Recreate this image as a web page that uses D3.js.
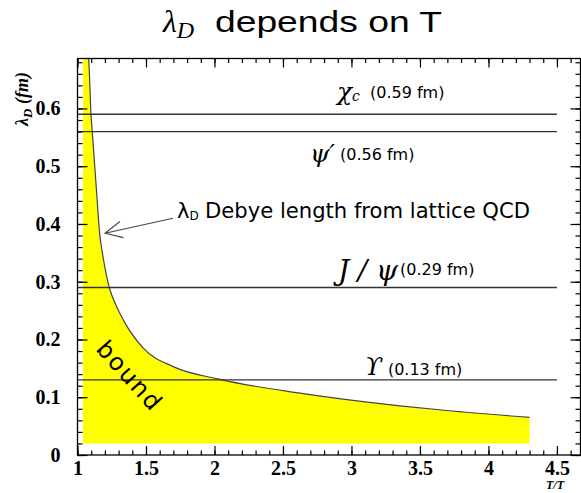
<!DOCTYPE html>
<html>
<head>
<meta charset="utf-8">
<script src="https://cdn.jsdelivr.net/npm/d3@7"></script>
<style>
  body { margin: 0; background: #fff; }
  svg { display: block; }
</style>
</head>
<body>
<div id="container"></div>
<script>
// Debye length curve (T/Tc, lambda_D in fm)
const tRatio = [1.075, 1.082, 1.099, 1.108, 1.135, 1.164, 1.179, 1.232, 1.274, 1.334, 1.48, 1.699, 2.04, 2.624, 3.354, 3.695, 4.30]
const lambdaD = [0.70, 0.684, 0.588, 0.559, 0.47, 0.378, 0.354, 0.290, 0.263, 0.234, 0.185, 0.153, 0.131, 0.107, 0.085, 0.077, 0.065]

// quarkonium states and their radii
const states = ["χc", "ψ′", "J/ψ", "ϒ"]
const radii = [0.59, 0.56, 0.29, 0.13]

const xTicks = [1, 1.5, 2, 2.5, 3, 3.5, 4, 4.5]
const yTicks = [0, 0.1, 0.2, 0.3, 0.4, 0.5, 0.6]

const width = 581
const height = 493

const svg = d3.select('#container')
    .append('svg').attr('width', width).attr('height', height)

const x = d3.scaleLinear().domain([1, 4.672]).range([77.5, 580.5])
const y = d3.scaleLinear().domain([0, 0.6865]).range([455, 58.5])

svg.append("clipPath").attr("id", "frame")
    .append("rect")
    .attr("x", x.range()[0]).attr("y", y.range()[1])
    .attr("width", x.range()[1] - x.range()[0])
    .attr("height", y.range()[0] - y.range()[1])

const curveData = tRatio.map((t, i) => [t, lambdaD[i]])
const plot = svg.append("g").attr("clip-path", "url(#frame)")

// yellow bound region
const areaData = [[1.04, 0.70]].concat(curveData)
const area = d3.area()
    .x(d => x(d[0]))
    .y0(y(0.02))
    .y1(d => y(d[1]))
    .curve(d3.curveMonotoneX)
plot.append("path")
    .attr("d", area(areaData))
    .attr("fill", "#ffff00")

const line = d3.line()
    .x(d => x(d[0]))
    .y(d => y(d[1]))
    .curve(d3.curveMonotoneX)
plot.append("path")
    .attr("d", line(curveData))
    .attr("fill", "none")
    .attr("stroke", "#444")
    .attr("stroke-width", 1.2)

// radius lines
plot.selectAll(".radius").data(radii).enter()
    .append("line")
    .attr("x1", x(1)).attr("x2", x(4.5))
    .attr("y1", d => y(d)).attr("y2", d => y(d))
    .attr("stroke", "#333")
    .attr("stroke-width", 1.3)

// axes with inward ticks
const range = (a, b, s) => d3.range(Math.round((b - a) / s) + 1).map(i => +(a + i * s).toFixed(3))
const xMinor = range(1, 4.6, 0.1)
const yMinor = range(0, 0.68, 0.02)

function tickAxis(axisFn, scale, values, size, pos, labels) {
    const a = axisFn(scale).tickValues(values).tickSize(-size)
    a.tickFormat(labels ? d3.format("~g") : "")
    const g = svg.append("g").attr("transform", pos).call(a)
    g.select(".domain").remove()
    g.selectAll(".tick line").attr("stroke", "#000").attr("stroke-width", 1.2)
    return g
}

tickAxis(d3.axisLeft, y, yMinor, 5, `translate(${x.range()[0]},0)`)
tickAxis(d3.axisRight, y, yMinor, 5, `translate(${x.range()[1]},0)`)
tickAxis(d3.axisRight, y, yTicks, 10, `translate(${x.range()[1]},0)`)
tickAxis(d3.axisBottom, x, xMinor, 4.5, `translate(0,${y.range()[0]})`)
tickAxis(d3.axisTop, x, xMinor, 4.5, `translate(0,${y.range()[1]})`)
tickAxis(d3.axisTop, x, xTicks, 9, `translate(0,${y.range()[1]})`)

const yAxis = tickAxis(d3.axisLeft, y, yTicks, 10, `translate(${x.range()[0]},0)`, true)
yAxis.call(g => g.selectAll(".tick text").attr("x", -17))
const xAxis = tickAxis(d3.axisBottom, x, xTicks, 9, `translate(0,${y.range()[0]})`, true)
xAxis.call(g => g.selectAll(".tick text").attr("y", 6))

svg.selectAll(".tick text")
    .attr("font-family", "Liberation Serif")
    .attr("font-weight", "bold")
    .attr("font-size", 20)
    .attr("fill", "#000")

// frame
svg.append("rect")
    .attr("x", x.range()[0]).attr("y", y.range()[1])
    .attr("width", x.range()[1] - x.range()[0])
    .attr("height", y.range()[0] - y.range()[1])
    .attr("fill", "none")
    .attr("stroke", "#000")
    .attr("stroke-width", 1.3)

// title
const title = svg.append("text").attr("y", 32).attr("fill", "#000")
title.append("tspan").attr("x", 163)
    .attr("font-family", "Liberation Serif").attr("font-style", "italic")
    .attr("font-size", 32).text("λ")
title.append("tspan").attr("dy", 6)
    .attr("font-family", "Liberation Serif").attr("font-style", "italic")
    .attr("font-size", 24).text("D")
svg.append("text").attr("x", 215).attr("y", 32)
    .attr("font-family", "Liberation Sans").attr("font-size", 30)
    .attr("textLength", 227).attr("lengthAdjust", "spacingAndGlyphs")
    .text("depends on T")

// axis titles
const yTitle = svg.append("text")
    .attr("transform", "translate(28,126) rotate(-90)")
    .attr("font-family", "Liberation Serif").attr("font-weight", "bold")
    .attr("font-style", "italic").attr("font-size", 18)
yTitle.append("tspan").text("λ")
yTitle.append("tspan").attr("dy", 4).attr("font-size", 13).text("D")
yTitle.append("tspan").attr("dy", -4).text(" (fm)")

svg.append("text").attr("x", 546).attr("y", 489)
    .attr("font-family", "Liberation Serif").attr("font-weight", "bold")
    .attr("font-style", "italic").attr("font-size", 12)
    .text("T/T")

// state labels: symbol position, symbol width and value-text position
const symPos = [[2.894, 0.6147], [2.697, 0.5075], [2.901, 0.303], [3.099, 0.1385]]
const symWidth = [21, 25, 60, 18]
const valPos = [[3.135, 0.6176], [2.916, 0.5107], [3.354, 0.3116], [3.266, 0.1385]]
const symFont = "DejaVu Serif"

states.forEach((s, i) => {
    const t = svg.append("text")
        .attr("x", x(symPos[i][0])).attr("y", y(symPos[i][1]))
        .attr("font-family", symFont).attr("font-style", "italic")
        .attr("font-size", i === 2 ? 28 : 25).attr("fill", "#000")
    if (s === "χc") {
        t.append("tspan").text("χ")
        t.append("tspan").attr("font-size", 14).attr("dy", 1).text("c")
    } else {
        t.attr("textLength", symWidth[i]).attr("lengthAdjust", "spacing").text(s)
    }
    svg.append("text")
        .attr("x", x(valPos[i][0])).attr("y", y(valPos[i][1]))
        .attr("font-family", "DejaVu Sans").attr("font-size", 16)
        .attr("fill", "#000")
        .text(`(${radii[i]} fm)`)
})

// Debye length annotation
const deb = svg.append("text")
    .attr("x", 177).attr("y", y(0.4103))
    .attr("font-family", "DejaVu Sans").attr("fill", "#000")
deb.append("tspan").attr("font-size", 21).text("λ")
deb.append("tspan").attr("font-size", 12).attr("dy", 2).text("D")
svg.append("text")
    .attr("x", x(1.931)).attr("y", y(0.4103))
    .attr("font-family", "DejaVu Sans").attr("font-size", 21)
    .attr("textLength", 325).attr("lengthAdjust", "spacingAndGlyphs")
    .attr("fill", "#000")
    .text("Debye length from lattice QCD")

const arrowFrom = [x(1.697), y(0.410)]
const arrowTip = [x(1.2007), y(0.384)]
const ang = Math.atan2(arrowFrom[1] - arrowTip[1], arrowFrom[0] - arrowTip[0])
const headLen = 19
const head = [ang - 0.45, ang + 0.45].map(a => [arrowTip[0] + headLen * Math.cos(a), arrowTip[1] + headLen * Math.sin(a)])
svg.append("path")
    .attr("d", d3.line()([arrowFrom, arrowTip]) + "M" + head[0] + "L" + arrowTip + "L" + head[1])
    .attr("fill", "none")
    .attr("stroke", "#444")
    .attr("stroke-width", 1.1)

// bound label
svg.append("text")
    .attr("transform", `translate(${x(1.383)},${y(0.137)}) rotate(48)`)
    .attr("text-anchor", "middle").attr("dy", "0.35em")
    .attr("font-family", "DejaVu Sans").attr("font-size", 24)
    .attr("letter-spacing", 2)
    .attr("fill", "#000")
    .text("bound")
</script>
</body>
</html>
